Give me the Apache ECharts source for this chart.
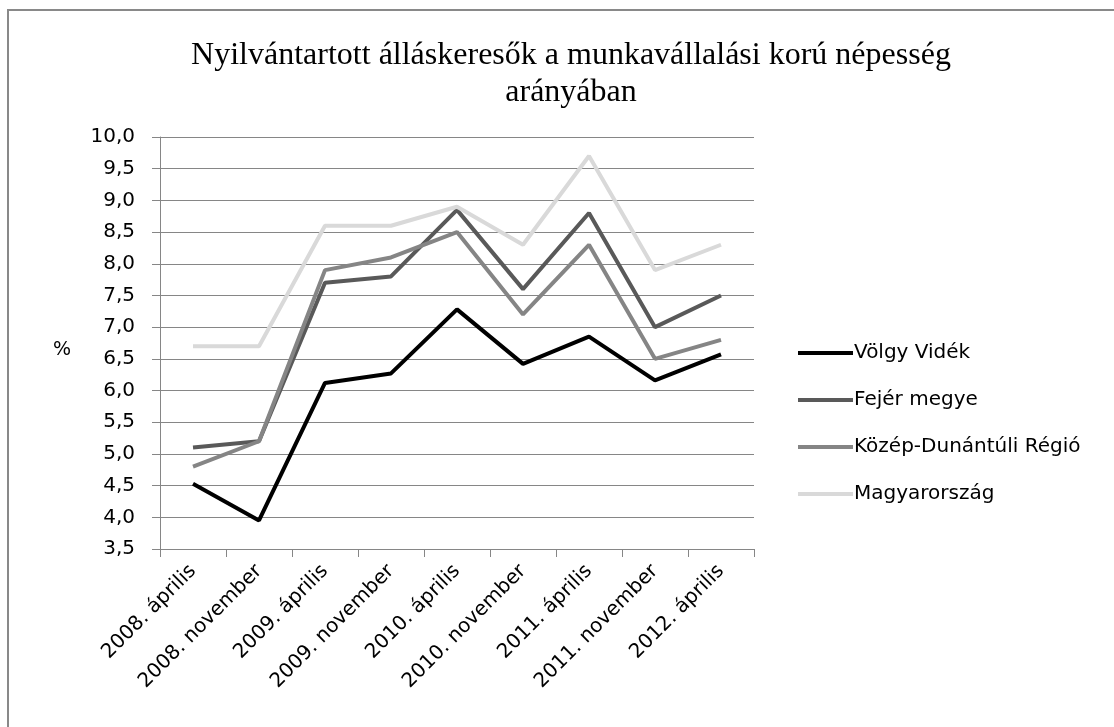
<!DOCTYPE html>
<html>
<head>
<meta charset="utf-8">
<script src="https://cdn.jsdelivr.net/npm/echarts@6/dist/echarts.min.js"></script>
<style>
  html, body { margin: 0; padding: 0; background: #fff; }
  #chart { width: 1114px; height: 727px; }
</style>
</head>
<body>
<div id="chart"></div>
<script>
  // kategóriák (félévek)
  const categories = [
    '2008. április', '2008. november', '2009. április', '2009. november',
    '2010. április', '2010. november', '2011. április', '2011. november', '2012. április'
  ];

  const volgyVidek = [4.53, 3.95, 6.12, 6.27, 7.28, 6.42, 6.85, 6.16, 6.57];
  const fejerMegye = [5.1, 5.2, 7.7, 7.8, 8.85, 7.6, 8.8, 7.0, 7.5];
  const kozepDunantul = [4.8, 5.2, 7.9, 8.1, 8.5, 7.2, 8.3, 6.5, 6.8];
  const magyarorszag = [6.7, 6.7, 8.6, 8.6, 8.9, 8.3, 9.7, 7.9, 8.3];

  const seriesNames = ['Völgy Vidék', 'Fejér megye', 'Közép-Dunántúli Régió', 'Magyarország'];
  const seriesColors = ['#000000', '#595959', '#858585', '#d9d9d9'];

  const myChart = echarts.init(document.getElementById('chart'));

  const series = [volgyVidek, fejerMegye, kozepDunantul, magyarorszag].map((data, i) => {
    return {
      name: seriesNames[i],
      type: 'line',
      symbol: 'none',
      data: data,
      lineStyle: { width: 4, color: seriesColors[i] },
      itemStyle: { color: seriesColors[i] },
    };
  });

  const axisFont = { fontFamily: 'DejaVu Sans', fontSize: 20, color: '#000' };

  myChart.setOption({
    animation: false,
    title: {
      text: 'Nyilvántartott álláskeresők a munkavállalási korú népesség\narányában',
      left: 566,
      top: 32,
      textAlign: 'center',
      textStyle: {
        fontFamily: 'Liberation Serif',
        fontWeight: 'normal',
        fontSize: 32,
        lineHeight: 37,
        color: '#000',
      },
    },
    legend: {
      orient: 'vertical',
      left: 793,
      top: 336,
      icon: 'rect',
      itemWidth: 55,
      itemHeight: 4,
      itemGap: 23,
      textStyle: { fontFamily: 'DejaVu Sans', fontSize: 20, color: '#000', lineHeight: 24, padding: [0, 0, 0, -4] },
      data: seriesNames,
    },
    grid: { left: 160, top: 137, right: 360, bottom: 178 },
    xAxis: {
      type: 'category',
      data: categories,
      boundaryGap: true,
      axisLine: { lineStyle: { color: '#868686', width: 1 } },
      axisTick: { show: true, length: 8, lineStyle: { color: '#868686' } },
      axisLabel: Object.assign({ rotate: 45, margin: 19, interval: 0 }, axisFont),
    },
    yAxis: {
      type: 'value',
      min: 3.5,
      max: 10,
      interval: 0.5,
      axisLine: { show: true, lineStyle: { color: '#868686', width: 1 } },
      axisTick: { show: true, length: 8, lineStyle: { color: '#868686' } },
      splitLine: { lineStyle: { color: '#868686', width: 1 } },
      axisLabel: Object.assign({
        margin: 25,
        formatter: (v) => v.toFixed(1).replace('.', ','),
      }, axisFont),
    },
    graphic: [
      {
        type: 'rect',
        shape: { x: 8, y: 10, width: 1200, height: 800 },
        style: { fill: 'none', stroke: '#898989', lineWidth: 2 },
        silent: true,
      },
      {
        type: 'text',
        left: 53,
        top: 341,
        style: { text: '%', fontFamily: 'DejaVu Sans', fontSize: 19, fill: '#000' },
      },
    ],
    series,
  });
</script>
</body>
</html>
